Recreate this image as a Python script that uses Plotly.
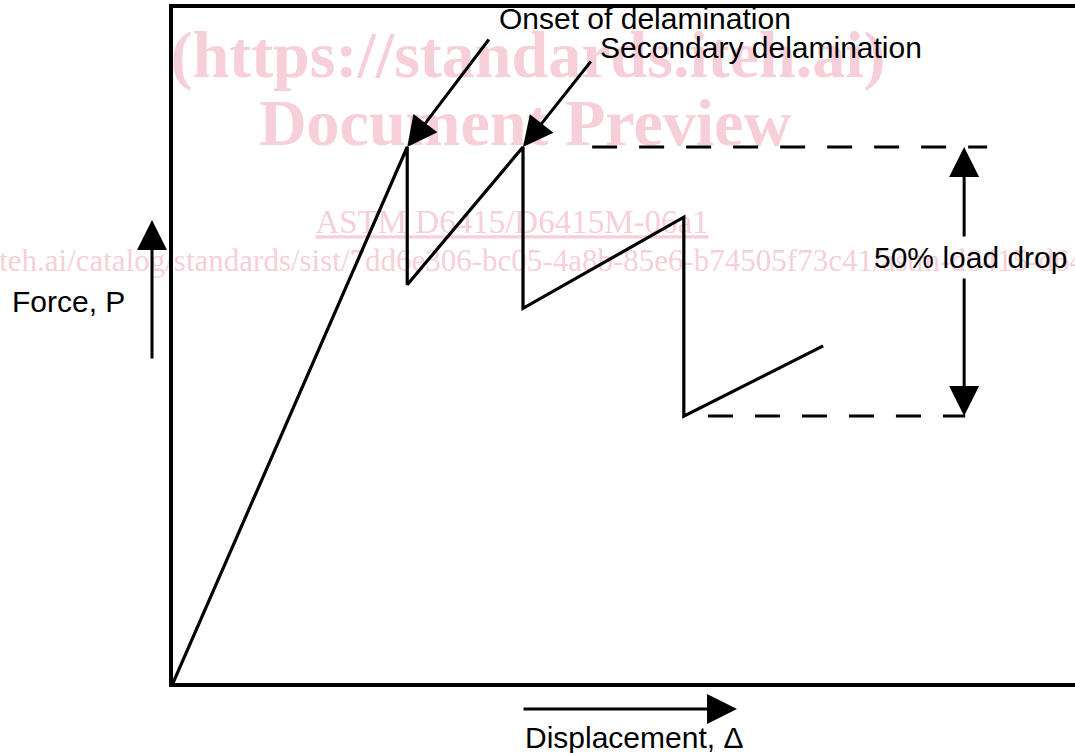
import plotly.graph_objects as go

# ---------------- data (normalised: peak force = 1.0) ----------------
displacement = [0.0, 0.437, 0.437, 0.653, 0.653, 0.953, 0.953, 1.213]
force = [0.0, 1.0, 0.743, 1.0, 0.699, 0.869, 0.498, 0.629]

peak_level = 1.0
drop_level = 0.498
top_dash_span = [0.782, 1.519]
bottom_dash_span = [0.998, 1.478]
drop_arrow_x = 1.476

onset_label = "Onset of delamination"
secondary_label = "Secondary delamination"
drop_label = "50% load drop"
y_label = "Force, P"
x_label = "Displacement, \u0394"

watermark_lines = ["<b>(https://standards.iteh.ai)</b>",
                   "<b>Document Preview</b>",
                   "<u>ASTM D6415/D6415M-06a1</u>"]
watermark_sizes = [66, 66, 33]
watermark_url = ("https://standards.iteh.ai/catalog/standards/sist/"
                 "7dd6e306-bc05-4a8b-85e6-b74505f73c41/astm-d6415-d6415m-06a1")

# ---------------- layout geometry ----------------
W, H = 1075, 753
L, T, B = 173, 8, 70
PX = 536.0  # pixels per data unit (both axes)
PLOT_W = W - L
PLOT_H = H - B - T


def dx(px):
    return (px - L) / PX


def dy(py):
    return (H - B - py) / PX


def paper_x(px):
    return (px - L) / PLOT_W


def paper_y(py):
    return (H - B - py) / PLOT_H


PINK = "#f7cfd9"
SANS = "Liberation Sans, Arial, Helvetica, sans-serif"
SERIF = "Liberation Serif, Times New Roman, serif"

fig = go.Figure()

# watermark (drawn first so black lines sit on top)
fig.add_trace(go.Scatter(
    x=[dx(528), dx(525), dx(512)], y=[dy(60), dy(128), dy(225)],
    mode="text", text=watermark_lines, textposition="middle center",
    textfont=dict(family=SERIF, size=watermark_sizes, color=PINK),
    cliponaxis=False, hoverinfo="skip", showlegend=False))
fig.add_trace(go.Scatter(
    x=[dx(495)], y=[dy(263)], mode="text", text=[watermark_url],
    textposition="middle center",
    textfont=dict(family=SERIF, size=31, color=PINK),
    cliponaxis=False, hoverinfo="skip", showlegend=False))

# force-displacement curve
fig.add_trace(go.Scatter(x=displacement, y=force, mode="lines",
                         line=dict(color="black", width=3.2),
                         hoverinfo="skip", showlegend=False))

# dashed reference levels
fig.add_trace(go.Scatter(x=top_dash_span, y=[peak_level, peak_level], mode="lines",
                         line=dict(color="black", width=3, dash="25px,22px"),
                         hoverinfo="skip", showlegend=False))
fig.add_trace(go.Scatter(x=bottom_dash_span, y=[drop_level, drop_level], mode="lines",
                         line=dict(color="black", width=3, dash="25px,22px"),
                         hoverinfo="skip", showlegend=False))

ARROW = dict(text="", showarrow=True, arrowhead=2, arrowsize=2.0, arrowwidth=3,
             arrowcolor="black", standoff=0, startstandoff=0)


def arrow(x, y, ax, ay):
    return dict(x=x, y=y, ax=ax, ay=ay, xref="x", yref="y", axref="x", ayref="y", **ARROW)


def paper_arrow(tip_px, tip_py, tail_px, tail_py):
    return dict(x=paper_x(tip_px), y=paper_y(tip_py), xref="paper", yref="paper",
                axref="pixel", ayref="pixel", ax=tail_px - tip_px, ay=tail_py - tip_py,
                **ARROW)


def label(text, px, py):
    return dict(x=paper_x(px), y=paper_y(py), xref="paper", yref="paper", text=text,
                showarrow=False, xanchor="left", yanchor="middle",
                font=dict(family=SANS, size=30, color="black"))


annotations = [
    arrow(displacement[1], force[1], dx(490), dy(38)),
    arrow(displacement[3], force[3], dx(592), dy(60)),
    arrow(drop_arrow_x, peak_level, drop_arrow_x, dy(238)),
    arrow(drop_arrow_x, drop_level, drop_arrow_x, dy(277)),
    paper_arrow(152, 220, 152, 360),
    paper_arrow(737, 709, 522, 709),
    label(onset_label, 497, 18),
    label(secondary_label, 598, 47),
    label(drop_label, 872, 257),
    label(y_label, 10, 301),
    label(x_label, 523, 737),
]

fig.update_layout(
    width=W, height=H,
    margin=dict(l=L, r=0, t=T, b=B, pad=0),
    paper_bgcolor="white", plot_bgcolor="white",
    annotations=annotations,
    showlegend=False,
    xaxis=dict(range=[0, PLOT_W / PX], showgrid=False, zeroline=False,
               showticklabels=False, ticks="", showline=True, linecolor="black",
               linewidth=3.5, mirror=True, fixedrange=True),
    yaxis=dict(range=[0, PLOT_H / PX], showgrid=False, zeroline=False,
               showticklabels=False, ticks="", showline=True, linecolor="black",
               linewidth=3.5, mirror=False, fixedrange=True),
)

fig.write_html("out.html",
               config={"displayModeBar": False},
               post_script="document.body.style.margin='0px';"
                           "document.body.style.overflow='hidden';")
